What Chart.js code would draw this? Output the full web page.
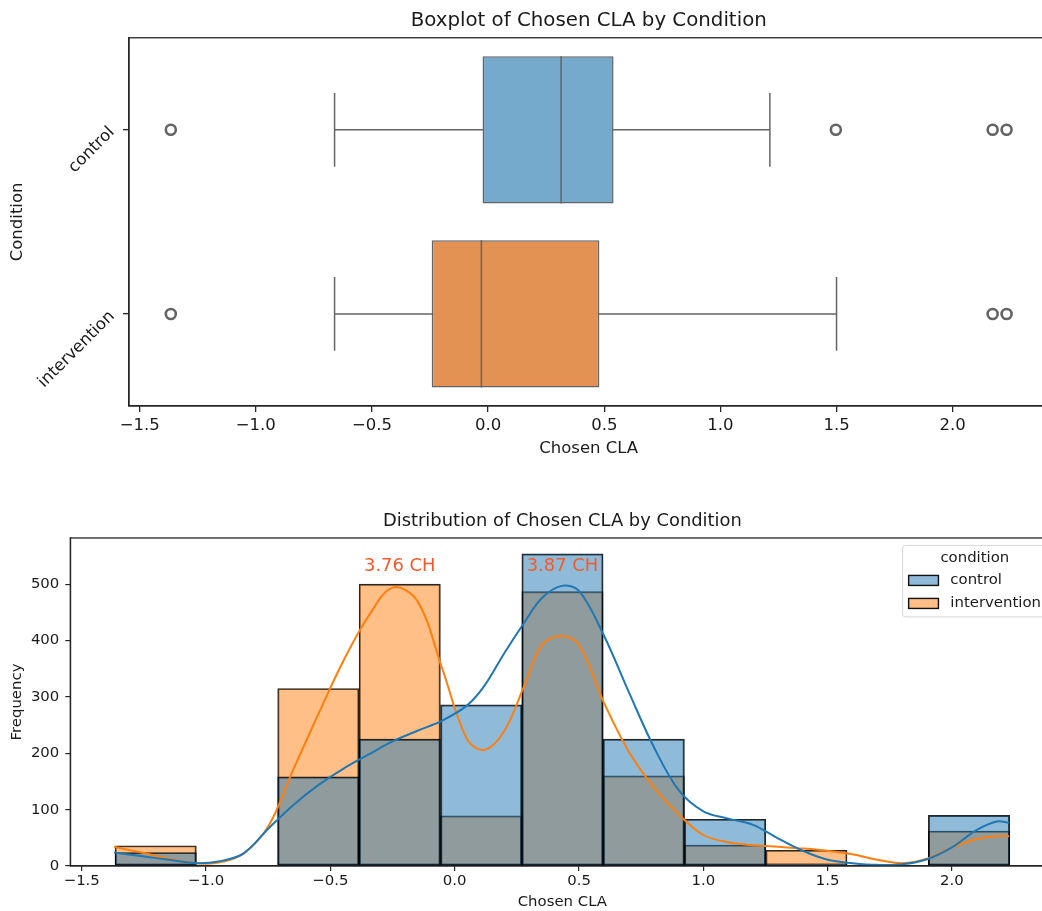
<!DOCTYPE html>
<html>
<head>
<meta charset="utf-8">
<title>Chosen CLA by Condition</title>
<script src="https://cdn.jsdelivr.net/npm/chart.js@4.4.0/dist/chart.umd.min.js"></script>
<style>
  html, body { margin: 0; padding: 0; background: #fff; overflow: hidden; }
  #wrap { position: relative; width: 1042px; height: 911px; overflow: hidden; background: #fff; }
  .panel { position: absolute; left: 0; }
  #top { top: 0; }
  #bottom { top: 470px; }
</style>
</head>
<body>
<div id="wrap">
  <div class="panel" id="top"><canvas id="boxChart" width="1056" height="470"></canvas></div>
  <div class="panel" id="bottom"><canvas id="histChart" width="1056" height="441"></canvas></div>
</div>
<script>
// ---- data ----
const conditions = ['control', 'intervention'];

// boxplot summary per condition
const whiskerLow = [-0.661, -0.661];
const q1 = [-0.024, -0.243];
const median = [0.314, -0.029];
const q3 = [0.540, 0.479];
const whiskerHigh = [1.213, 1.500];
const outliers = [
  [-1.366, 1.497, 2.172, 2.232],
  [-1.366, 2.172, 2.232]
];

const xTicks = [-1.5, -1.0, -0.5, 0.0, 0.5, 1.0, 1.5, 2.0];

// histogram (11 bins)
const binEdges = [-1.366, -1.039, -0.712, -0.385, -0.057, 0.270, 0.597, 0.924, 1.251, 1.578, 1.905, 2.232];
const countControl = [24, 0, 158, 225, 286, 554, 225, 83, 4, 0, 90];
const countIntervention = [36, 0, 315, 500, 89, 487, 160, 37, 28, 0, 62];
const freqTicks = [0, 100, 200, 300, 400, 500];

// kde curves (scaled to counts)
const kdeX = [-1.37, -1.25, -1.15, -1.04, -0.95, -0.85, -0.75, -0.65, -0.55, -0.45, -0.35, -0.25, -0.15, -0.05,
  0.05, 0.12, 0.2, 0.28, 0.35, 0.43, 0.5, 0.6, 0.7, 0.8, 0.9, 1.0, 1.1, 1.2, 1.3, 1.4, 1.5, 1.6, 1.7, 1.8, 1.9,
  2.0, 2.1, 2.18, 2.23];
const kdeControl = [24, 17, 11, 5, 8, 22, 66, 108, 143, 172, 197, 221, 240, 258,
  285, 320, 378, 432, 475, 497, 488, 409, 309, 212, 135, 97, 84, 73, 49, 27, 11, 5, 2, 3, 12,
  33, 64, 79, 77];
const kdeIntervention = [34, 23, 13, 5, 6, 22, 70, 170, 268, 362, 441, 494, 470, 350,
  225, 206, 240, 320, 392, 408, 392, 290, 203, 140, 92, 55, 42, 37, 34, 31, 27, 21, 11, 5, 13,
  33, 48, 53, 53];

const peakLabels = ['3.76 CH', '3.87 CH'];
const peakBins = [3, 5];
const peakY = [532, 532];

// ---- styles ----
Chart.defaults.font.family = 'DejaVu Sans';
Chart.defaults.color = '#1a1a1a';
const axisColor = '#262626';
const lineGray = '#646464';
const boxColors = ['#76aacd', '#e49254'];
const kdeColors = ['#1f77b4', '#ff7f0e'];
const histColors = ['rgba(31,119,180,0.5)', 'rgba(255,127,14,0.5)'];
const boxHalf = 0.4, capHalf = 0.2;

const fmt = v => v.toFixed(1).replace('-', '\u2212');

const framePlugin = {
  id: 'frame',
  afterDatasetsDraw(chart) {
    const { ctx, chartArea: a } = chart;
    ctx.save();
    ctx.strokeStyle = axisColor;
    ctx.lineWidth = 1.3;
    ctx.strokeRect(a.left, a.top, a.right - a.left, a.bottom - a.top);
    ctx.restore();
  }
};

// ---- top: boxplot ----
const boxDatasets = [];
conditions.forEach((c, i) => {
  boxDatasets.push({
    type: 'line',
    data: [
      { x: whiskerLow[i], y: i - capHalf }, { x: whiskerLow[i], y: i + capHalf }, { x: whiskerLow[i], y: i },
      { x: whiskerHigh[i], y: i }, { x: whiskerHigh[i], y: i - capHalf }, { x: whiskerHigh[i], y: i + capHalf }
    ],
    borderColor: lineGray, borderWidth: 1.5, pointRadius: 0, tension: 0, order: 3
  });
  boxDatasets.push({
    type: 'line',
    data: [{ x: median[i], y: i - boxHalf }, { x: median[i], y: i + boxHalf }],
    borderColor: lineGray, borderWidth: 1.5, pointRadius: 0, order: 0
  });
  boxDatasets.push({
    type: 'scatter',
    data: outliers[i].map(v => ({ x: v, y: i })),
    pointRadius: 5, pointBorderWidth: 2.6, pointBorderColor: lineGray,
    pointBackgroundColor: 'rgba(0,0,0,0)', order: 0
  });
});
boxDatasets.push({
  type: 'bar',
  data: conditions.map((c, i) => ({ x: [q1[i], q3[i]], y: i })),
  backgroundColor: boxColors, borderColor: lineGray, borderWidth: 1.5, borderSkipped: false,
  barPercentage: 0.8, categoryPercentage: 1, order: 1
});

new Chart(document.getElementById('boxChart'), {
  type: 'bar',
  data: { datasets: boxDatasets },
  options: {
    responsive: false, animation: false, events: [],
    indexAxis: 'y',
    layout: { padding: { left: 0, right: 2.6, top: 0, bottom: 0 } },
    plugins: {
      legend: { display: false }, tooltip: { enabled: false },
      title: { display: true, text: 'Boxplot of Chosen CLA by Condition', fullSize: false,
        font: { size: 19.8, weight: 'normal' }, color: '#1a1a1a', padding: { top: 9, bottom: 5 } }
    },
    scales: {
      x: {
        type: 'linear', min: -1.546, max: 2.412, offset: false,
        afterBuildTicks: s => { s.ticks = xTicks.map(v => ({ value: v })); },
        afterFit: s => { s.height = 64; },
        grid: { drawOnChartArea: false, offset: false, tickLength: 6, color: axisColor, lineWidth: 1.3 },
        border: { color: axisColor, width: 1.3 },
        ticks: { font: { size: 16.5 }, padding: 4, maxRotation: 0, autoSkip: false, callback: v => fmt(v) },
        title: { display: true, text: 'Chosen CLA', font: { size: 16.5 }, padding: { top: 0, bottom: 11 } }
      },
      y: {
        type: 'linear', min: -0.5, max: 1.5, reverse: true, offset: false,
        afterBuildTicks: s => { s.ticks = conditions.map((c, i) => ({ value: i })); },
        afterFit: s => { s.width = 129; },
        grid: { drawOnChartArea: false, offset: false, tickLength: 6, color: axisColor, lineWidth: 1.3 },
        border: { color: axisColor, width: 1.3 },
        ticks: { font: { size: 16.5 }, padding: 11, minRotation: 45, maxRotation: 45, autoSkip: false,
          callback: v => conditions[v] },
        title: { display: true, text: 'Condition', font: { size: 16.5 }, padding: { top: 8, bottom: 0 } }
      }
    }
  },
  plugins: [framePlugin]
});

// ---- bottom: histogram + kde ----
const binCenters = countControl.map((_, i) => (binEdges[i] + binEdges[i + 1]) / 2);

const peakPlugin = {
  id: 'peaks',
  afterDatasetsDraw(chart) {
    const { ctx, scales } = chart;
    ctx.save();
    ctx.fillStyle = '#f75a28';
    ctx.font = '17.9px "DejaVu Sans"';
    ctx.textAlign = 'center';
    ctx.textBaseline = 'middle';
    peakLabels.forEach((t, i) => {
      ctx.fillText(t, scales.x.getPixelForValue(binCenters[peakBins[i]]), scales.y.getPixelForValue(peakY[i]));
    });
    ctx.restore();
  }
};

const hueLegend = {
  id: 'hueLegend',
  afterDraw(chart) {
    const { ctx, chartArea: a } = chart;
    const fs = 14.9;
    const items = chart.data.datasets.filter(d => d.type === 'bar')
      .sort((p, q) => conditions.indexOf(p.label) - conditions.indexOf(q.label));
    ctx.save();
    ctx.font = fs + 'px "DejaVu Sans"';
    const textW = Math.max(...items.map(d => ctx.measureText(d.label).width));
    const pad = 0.4 * fs, handleW = 2 * fs, handleGap = 0.8 * fs;
    const w = pad * 2 + handleW + handleGap + textW;
    const h = 71.5;
    const right = a.right - 0.5 * fs, top = a.top + 0.5 * fs, left = right - w;
    ctx.fillStyle = 'rgba(255,255,255,0.8)';
    ctx.strokeStyle = '#d6d6d6';
    ctx.lineWidth = 1;
    ctx.beginPath();
    ctx.roundRect(left, top, w, h, 3);
    ctx.fill();
    ctx.stroke();
    ctx.fillStyle = '#1a1a1a';
    ctx.textBaseline = 'middle';
    ctx.textAlign = 'center';
    ctx.fillText('condition', left + w / 2, top + 12.5);
    ctx.textAlign = 'left';
    items.forEach((d, i) => {
      const cy = top + 35 + i * 23;
      ctx.fillStyle = '#fff';
      ctx.fillRect(left + pad, cy - 5, handleW, 10);
      ctx.fillStyle = d.backgroundColor;
      ctx.fillRect(left + pad, cy - 5, handleW, 10);
      ctx.strokeStyle = '#111';
      ctx.lineWidth = 1.4;
      ctx.strokeRect(left + pad, cy - 5, handleW, 10);
      ctx.fillStyle = '#1a1a1a';
      ctx.fillText(d.label, left + pad + handleW + handleGap, cy);
    });
    ctx.restore();
  }
};

new Chart(document.getElementById('histChart'), {
  type: 'bar',
  data: {
    datasets: [
      {
        type: 'line', label: 'control kde',
        data: kdeX.map((x, i) => ({ x, y: kdeControl[i] })),
        borderColor: kdeColors[0], borderWidth: 2, pointRadius: 0, tension: 0.35, order: 0
      },
      {
        type: 'line', label: 'intervention kde',
        data: kdeX.map((x, i) => ({ x, y: kdeIntervention[i] })),
        borderColor: kdeColors[1], borderWidth: 2, pointRadius: 0, tension: 0.35, order: 0.5
      },
      {
        type: 'bar', label: conditions[0],
        data: binCenters.map((x, i) => ({ x, y: countControl[i] })),
        backgroundColor: histColors[0], borderColor: 'rgba(0,0,0,0.85)', borderWidth: 1.3, borderSkipped: false,
        grouped: false, barPercentage: 1, categoryPercentage: 1, order: 1
      },
      {
        type: 'bar', label: conditions[1],
        data: binCenters.map((x, i) => ({ x, y: countIntervention[i] })),
        backgroundColor: histColors[1], borderColor: 'rgba(0,0,0,0.85)', borderWidth: 1.3, borderSkipped: false,
        grouped: false, barPercentage: 1, categoryPercentage: 1, order: 2
      }
    ]
  },
  options: {
    responsive: false, animation: false, events: [],
    layout: { padding: { left: 0, right: 1.6, top: 0, bottom: 0 } },
    plugins: {
      legend: { display: false }, tooltip: { enabled: false },
      title: { display: true, text: 'Distribution of Chosen CLA by Condition', fullSize: false,
        font: { size: 17.9, weight: 'normal' }, color: '#1a1a1a', padding: { top: 41, bottom: 5.5 } }
    },
    scales: {
      x: {
        type: 'linear', min: -1.546, max: 2.412, offset: false,
        afterBuildTicks: s => { s.ticks = xTicks.map(v => ({ value: v })); },
        afterFit: s => { s.height = 45; },
        grid: { drawOnChartArea: false, offset: false, tickLength: 5, color: axisColor, lineWidth: 1.2 },
        border: { color: axisColor, width: 1.2 },
        ticks: { font: { size: 14.9 }, padding: 1, maxRotation: 0, autoSkip: false, callback: v => fmt(v) },
        title: { display: true, text: 'Chosen CLA', font: { size: 14.9 }, padding: { top: 0, bottom: 0 } }
      },
      y: {
        type: 'linear', min: 0, max: 582,
        afterBuildTicks: s => { s.ticks = freqTicks.map(v => ({ value: v })); },
        afterFit: s => { s.width = 70.3; },
        grid: { drawOnChartArea: false, tickLength: 5, color: axisColor, lineWidth: 1.2 },
        border: { color: axisColor, width: 1.2 },
        ticks: { font: { size: 14.9 }, padding: 6, autoSkip: false },
        title: { display: true, text: 'Frequency', font: { size: 14.9 }, padding: { top: 8.5, bottom: 0 } }
      }
    }
  },
  plugins: [framePlugin, peakPlugin, hueLegend]
});
</script>
</body>
</html>
